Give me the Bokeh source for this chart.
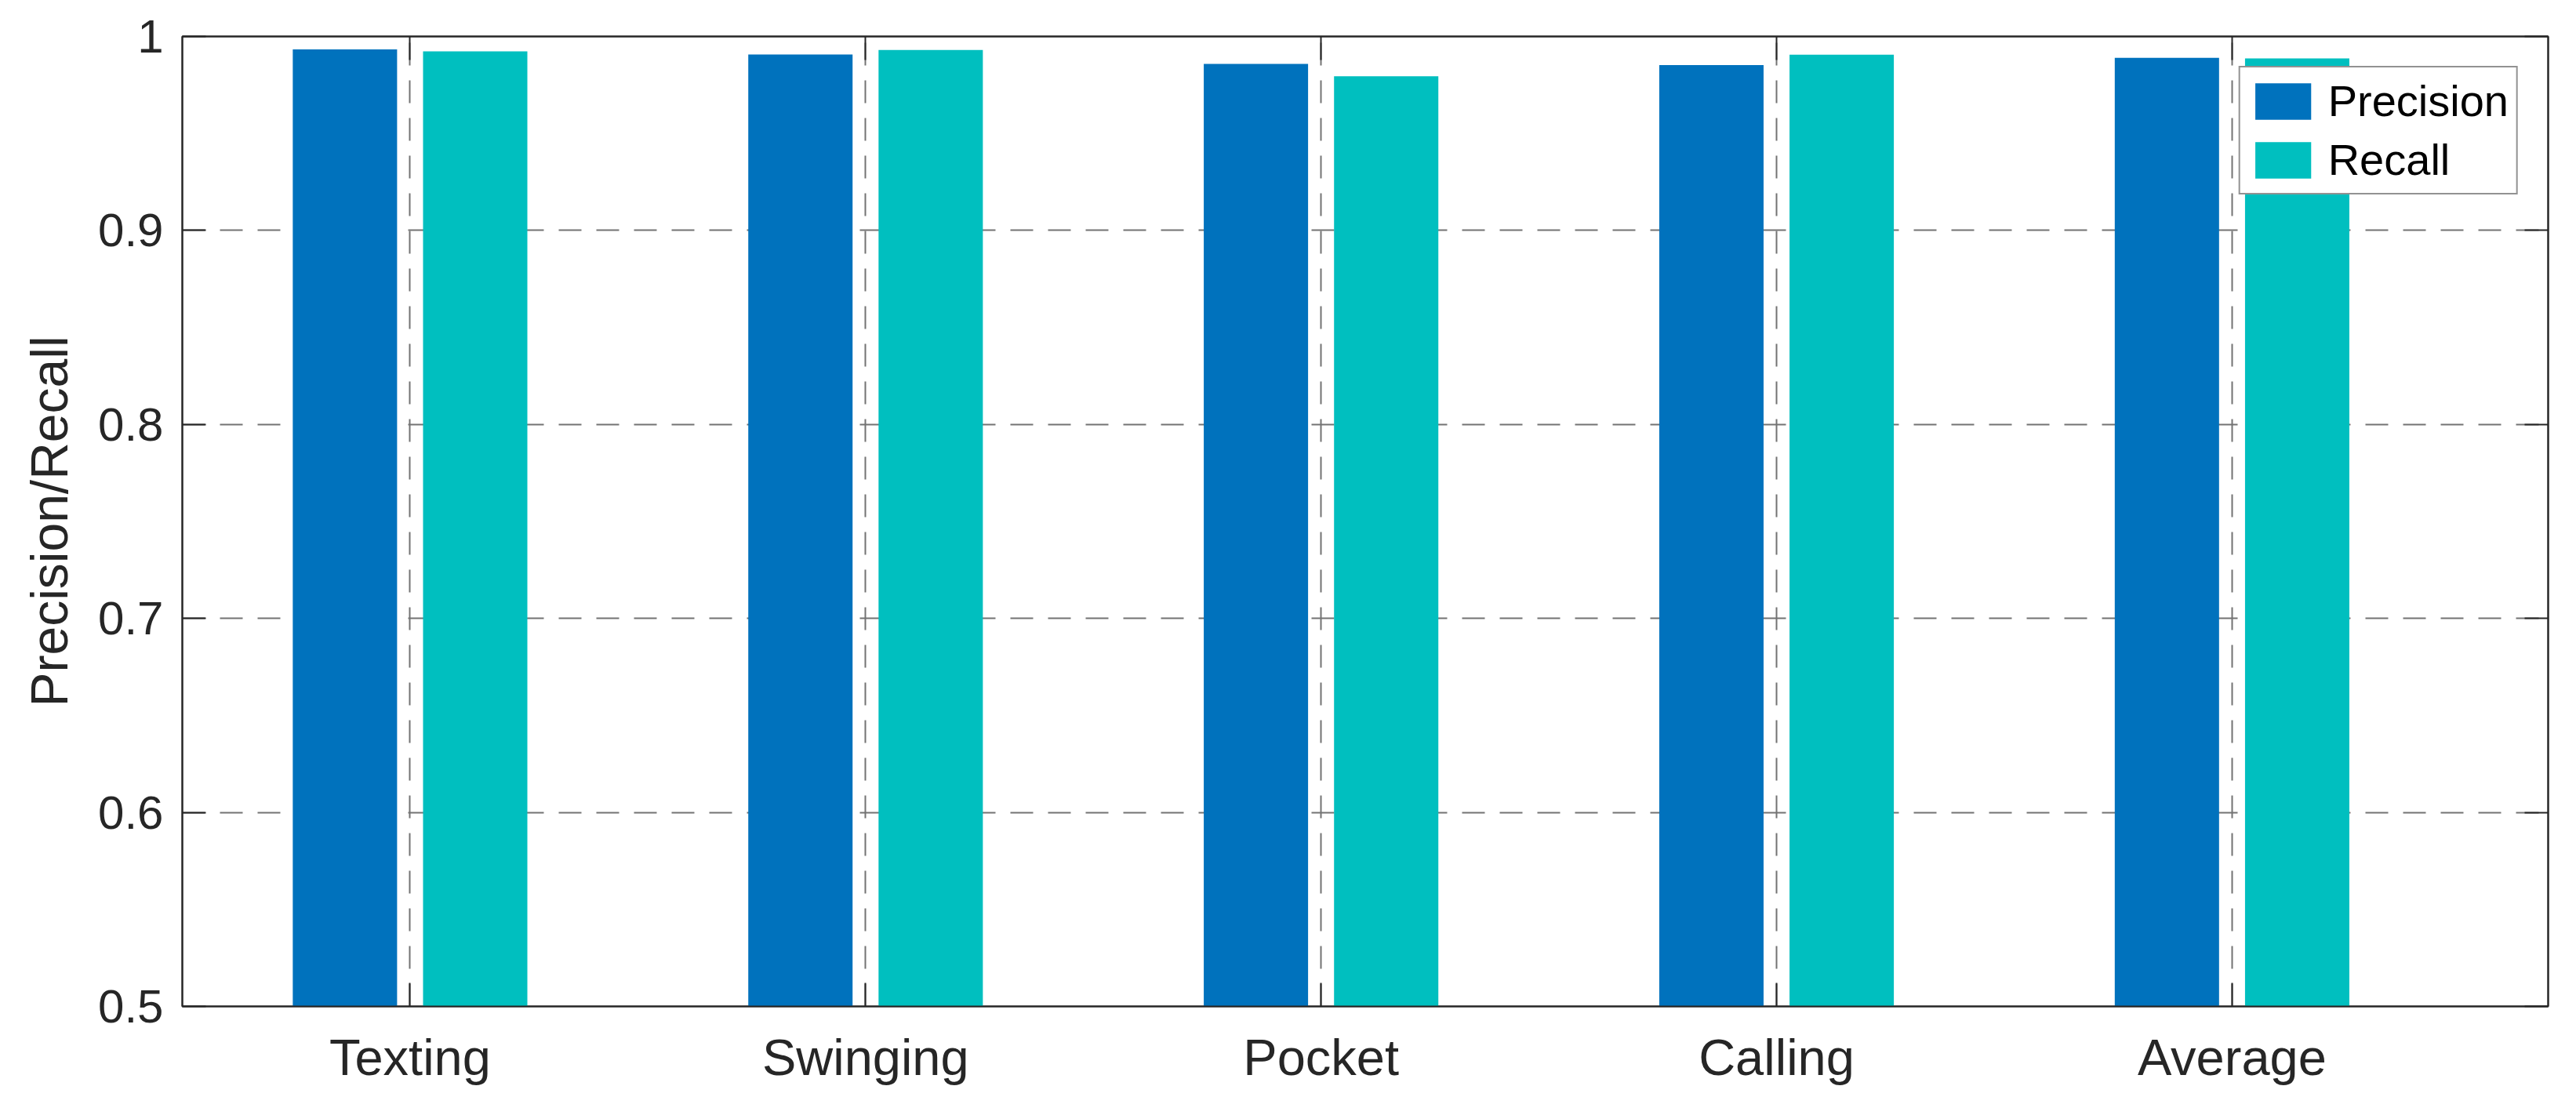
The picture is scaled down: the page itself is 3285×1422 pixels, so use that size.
from bokeh.plotting import figure
from bokeh.models import (FixedTicker, LinearAxis, Range1d, ColumnDataSource,
                          Legend, LegendItem, CustomJSTickFormatter)
from bokeh.transform import dodge
from bokeh.embed import file_html
from bokeh.resources import INLINE

# ---- data ----
categories = ["Texting", "Swinging", "Pocket", "Calling", "Average"]
positions = [1, 2, 3, 4, 5]
precision = [0.9933, 0.9907, 0.9859, 0.9852, 0.9890]
recall = [0.9923, 0.9930, 0.9795, 0.9906, 0.9887]
y_ticks = [0.5, 0.6, 0.7, 0.8, 0.9, 1.0]
series_names = ["Precision", "Recall"]

FONT = "Liberation Sans"
TXT = "#262626"
C_PREC = "#0072BD"
C_REC = "#00BFBF"

src = ColumnDataSource(dict(x=positions, cat=categories, precision=precision, recall=recall))

p = figure(frame_width=3017, frame_height=1237,
           x_range=Range1d(0.5, 5.694), y_range=Range1d(0.5, 1.0),
           output_backend="svg", toolbar_location=None,
           min_border_left=232, min_border_top=46, min_border_right=20, min_border_bottom=123)
p.background_fill_color = "white"
p.border_fill_color = "white"
p.outline_line_color = TXT
p.outline_line_width = 2

bw = 0.229
r1 = p.vbar(x=dodge("x", -0.143, range=p.x_range), top="precision", bottom=0.5, width=bw,
            source=src, fill_color=C_PREC, line_color=None)
r2 = p.vbar(x=dodge("x", 0.143, range=p.x_range), top="recall", bottom=0.5, width=bw,
            source=src, fill_color=C_REC, line_color=None)

xt = FixedTicker(ticks=positions)
yt = FixedTicker(ticks=y_ticks)
yfmt = CustomJSTickFormatter(code="return tick.toFixed(1).replace(/\\.0$/, '');")
blank = CustomJSTickFormatter(code="return '';")

def style_axis(ax, labels=True):
    ax.axis_line_color = TXT
    ax.axis_line_width = 2
    ax.major_tick_line_color = TXT
    ax.major_tick_line_width = 2
    ax.major_tick_in = 30
    ax.major_tick_out = 0
    ax.minor_tick_line_color = None
    ax.major_label_text_font = FONT
    ax.major_label_text_color = TXT
    if not labels:
        ax.formatter = blank
        ax.major_label_standoff = 0

# bottom x axis
xa = p.xaxis[0]
xa.ticker = xt
xa.major_label_overrides = {i: c for i, c in zip(positions, categories)}
style_axis(xa)
xa.major_label_text_font_size = "65px"
xa.major_label_standoff = 28

# left y axis
ya = p.yaxis[0]
ya.ticker = yt
ya.formatter = yfmt
style_axis(ya)
ya.major_label_text_font_size = "60px"
ya.major_label_standoff = 24
ya.axis_label = "Precision/Recall"
ya.axis_label_text_font = FONT
ya.axis_label_text_font_size = "66px"
ya.axis_label_text_font_style = "normal"
ya.axis_label_text_color = TXT
ya.axis_label_standoff = 22

# top and right axes (ticks only)
xtop = LinearAxis(ticker=xt)
style_axis(xtop, labels=False)
p.add_layout(xtop, "above")
yright = LinearAxis(ticker=yt)
style_axis(yright, labels=False)
p.add_layout(yright, "right")

# grids
for g, t in ((p.xgrid[0], xt), (p.ygrid[0], yt)):
    g.ticker = t
    g.grid_line_color = "#737373"
    g.grid_line_width = 2
    g.grid_line_dash = "29 19"

legend = Legend(items=[LegendItem(label=series_names[0], renderers=[r1]),
                       LegendItem(label=series_names[1], renderers=[r2])],
                location="top_right")
legend.margin = 38
legend.padding = 10
legend.spacing = 10
legend.glyph_width = 89
legend.glyph_height = 58
legend.label_standoff = 13
legend.label_text_font = FONT
legend.label_text_font_size = "56px"
legend.label_text_color = "black"
legend.border_line_color = TXT
legend.border_line_width = 2
legend.background_fill_color = "white"
legend.background_fill_alpha = 1.0
p.add_layout(legend)

open("out.html", "w").write(file_html(p, INLINE))
